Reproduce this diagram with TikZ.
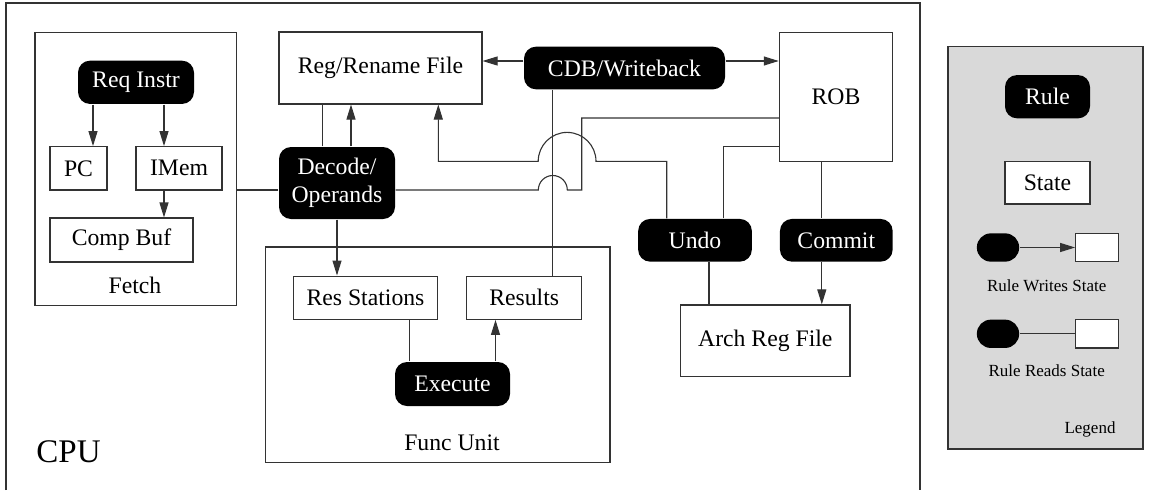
\documentclass[tikz,border=0pt]{standalone}
\usepackage{fontspec}
\setmainfont{Liberation Serif}
\usetikzlibrary{arrows.meta}
\begin{document}
\begin{tikzpicture}[x=1pt,y=-1pt,
  line width=1.1pt,
  wire/.style={draw=black!80},
  arr/.style={wire,-{Triangle[length=15pt,width=9pt]}},
  txt/.style={font=\fontsize{23.7}{28}\selectfont},
  state/.style={draw=black!80,fill=white,inner sep=0pt,txt,align=center},
  rule/.style={fill=black,text=white,rounded corners=12pt,inner sep=0pt,txt,align=center},
  grp/.style={draw=black!80},
  lbl/.style={inner sep=0pt,txt},
  small/.style={inner sep=0pt,font=\fontsize{17}{20}\selectfont},
]
\useasboundingbox (0,0) rectangle (1153,490);

% CPU enclosure (runs past the lower edge)
\draw[grp] (6,490) -- (6,3) -- (920,3) -- (920,490);
\node[inner sep=0pt,font=\fontsize{33}{38}\selectfont] (cpu) at (68.5,452) {CPU};

% Fetch group
\node[grp,minimum width=201.7pt,minimum height=272.7pt,inner sep=0pt] (fetchbox) at (135.8,168.7) {};
\node[lbl] (fetchlbl) at (135,285) {Fetch};
\node[rule,minimum width=116pt,minimum height=43.3pt] (reqinstr) at (136,82.3) {Req Instr};
\node[state,minimum width=57pt,minimum height=43.3pt] (pc) at (78.5,168.3) {PC};
\node[state,minimum width=86pt,minimum height=43.3pt] (imem) at (179,168.3) {IMem};
\node[state,minimum width=143pt,minimum height=44pt] (compbuf) at (121.5,240) {Comp Buf};

% Decode and rename
\node[state,minimum width=203pt,minimum height=72pt] (regfile) at (380.5,68) {Reg/Rename File};
\node[rule,minimum width=116pt,minimum height=72pt] (decode) at (337,183) {Decode/\\Operands};

% Functional unit group
\node[grp,minimum width=344.4pt,minimum height=215.7pt,inner sep=0pt] (funcbox) at (437.8,354.8) {};
\node[lbl] (funclbl) at (452,443) {Func Unit};
\node[state,minimum width=144.4pt,minimum height=43.3pt] (resst) at (365.5,297.7) {Res Stations};
\node[state,minimum width=115pt,minimum height=43.3pt] (results) at (524.2,297.7) {Results};
\node[rule,minimum width=115pt,minimum height=44pt] (execute) at (452.5,384) {Execute};

% Writeback and retirement
\node[rule,minimum width=201pt,minimum height=42.7pt] (cdb) at (624.5,68) {CDB/Writeback};
\node[state,minimum width=113.4pt,minimum height=129pt] (rob) at (836,96.8) {ROB};
\node[rule,minimum width=113.7pt,minimum height=42.7pt] (undo) at (695,240.3) {Undo};
\node[rule,minimum width=112.7pt,minimum height=42.7pt] (commit) at (836.3,240.3) {Commit};
\node[state,minimum width=169.3pt,minimum height=71.7pt] (archreg) at (765.3,340.8) {Arch Reg File};

% Fetch connectors
\draw[arr] ([xshift=-43]reqinstr.south) -- ([xshift=-43]reqinstr.south |- pc.north);
\draw[arr] ([xshift=28]reqinstr.south) -- ([xshift=28]reqinstr.south |- imem.north);
\draw[arr] ([xshift=-15]imem.south) -- ([xshift=-15]imem.south |- compbuf.north);
\draw[wire] ([yshift=-7]decode.west) -- ([yshift=-7]decode.west -| fetchbox.east);

% Decode connectors
\draw[wire] ([xshift=-14.3]decode.north) -- ([xshift=-14.3]decode.north |- regfile.south);
\draw[arr] ([xshift=14]decode.north) -- ([xshift=14]decode.north |- regfile.south);
\draw[arr] (decode.south) -- (decode.south |- resst.north);

% Execution connectors
\draw[wire] ([xshift=-43]execute.north) -- ([xshift=-43]execute.north |- resst.south);
\draw[arr] ([xshift=43]execute.north) -- ([xshift=43]execute.north |- results.south);

% Writeback connectors
\draw[arr] ([yshift=7]cdb.west) -- ([yshift=7]cdb.west -| regfile.east);
\draw[arr] ([yshift=7]cdb.east) -- ([yshift=7]cdb.east -| rob.west);
\draw[wire] ([xshift=-71.8]cdb.south) -- ([xshift=-71.8]cdb.south |- results.north);

% Retirement connectors
\draw[wire] ([xshift=-14.5]rob.south) -- ([xshift=-14.5]rob.south |- commit.north);
\draw[arr] ([xshift=-14.5]commit.south) -- ([xshift=-14.5]commit.south |- archreg.north);
\draw[wire] ([xshift=14]undo.south) -- ([xshift=14]undo.south |- archreg.north);
\draw[wire] ([xshift=28.3]undo.north) |- ([yshift=-50]rob.west);

% ROB read by decode, hopping over the CDB bus
\coordinate (robturn) at (581.7,190);
\coordinate (hopsmall) at (567.3,190);
\draw[wire] ([yshift=-21.2]rob.west) -| (robturn) -- (hopsmall)
  arc[start angle=0,end angle=180,radius=14.5pt] -- ([yshift=-7]decode.east);

% Undo restores the rename file, hopping over two wires
\coordinate (hopbig) at (596,161.3);
\draw[arr] ([xshift=-28.3]undo.north) |- (hopbig)
  arc[start angle=0,end angle=180,radius=28.9pt] -| ([xshift=57.8]regfile.south);

% Legend
\node[grp,fill=black!15,minimum width=195pt,minimum height=402.3pt,inner sep=0pt] (legend) at (1045.5,247.8) {};
\node[rule,minimum width=85pt,minimum height=43.3pt] (lrule) at (1047.5,96.7) {Rule};
\node[state,minimum width=85pt,minimum height=42.3pt] (lstate) at (1047.5,182.8) {State};
\node[fill=black,rounded corners=14pt,minimum width=42.3pt,minimum height=28.3pt,inner sep=0pt] (wrule) at (998,247.5) {};
\node[state,minimum width=42.7pt,minimum height=28.3pt] (wstate) at (1097,247.5) {};
\draw[arr] (wrule) -- (wstate);
\node[small] (wlbl) at (1046.7,285.7) {Rule Writes State};
\node[fill=black,rounded corners=14pt,minimum width=42.3pt,minimum height=28.3pt,inner sep=0pt] (rrule) at (998,333.8) {};
\node[state,minimum width=42.7pt,minimum height=28.3pt] (rstate) at (1097,333.8) {};
\draw[wire] (rrule) -- (rstate);
\node[small] (rlbl) at (1046.7,371) {Rule Reads State};
\node[small] (leglbl) at (1090,429.3) {Legend};
\end{tikzpicture}
\end{document}
